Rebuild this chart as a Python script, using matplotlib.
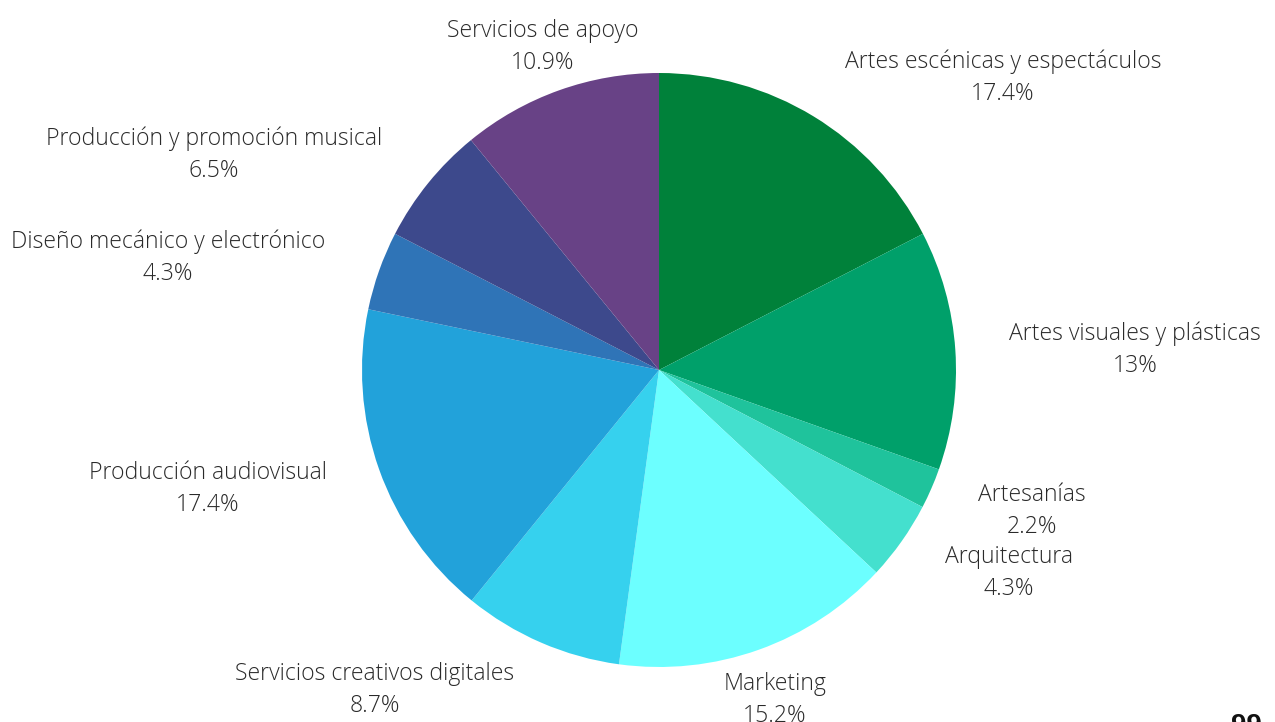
import matplotlib.pyplot as plt

# Sector shares (%), clockwise from 12 o'clock
sectors = [
    "Artes escénicas y espectáculos",
    "Artes visuales y plásticas",
    "Artesanías",
    "Arquitectura",
    "Marketing",
    "Servicios creativos digitales",
    "Producción audiovisual",
    "Diseño mecánico y electrónico",
    "Producción y promoción musical",
    "Servicios de apoyo",
]
shares = [17.4, 13, 2.2, 4.3, 15.2, 8.7, 17.4, 4.3, 6.5, 10.9]
colors = ["#00813A", "#00A06A", "#1FC39C", "#44E0CE", "#6CFFFF",
          "#36D1EE", "#22A2DA", "#2F74B7", "#3D498C", "#684286"]

# label anchor points in pixels (x, y from top)
label_px = [(1003, 78), (1135, 350), (1032, 511), (1009, 573), (775, 700),
            (375, 690), (208, 489), (168, 258), (214, 155), (543, 47)]

W, H = 1275, 722
CX, CY, R = 659, 370, 297

fig = plt.figure(figsize=(W / 100, H / 100), dpi=100)
ax = fig.add_axes([0, 0, 1, 1])
ax.axis('off')

ax.pie(shares, colors=colors, startangle=90, counterclock=False,
       radius=1, center=(0, 0), frame=False,
       wedgeprops=dict(linewidth=0))
ax.set_xlim(-CX / R, (W - CX) / R)
ax.set_ylim(-(H - CY) / R, CY / R)
ax.set_aspect('equal')

font = dict(family=['Open Sans', 'DejaVu Sans'], fontweight='light',
            fontsize=16.6, color='#2a2a2a', ha='center', va='center')
for name, val, (px, py) in zip(sectors, shares, label_px):
    x = (px - CX) / R
    ax.text(x, (CY - (py - 16)) / R, name, **font)
    ax.text(x, (CY - (py + 16)) / R, f"{val:g}%", **font)

# page number, clipped at the bottom edge
fig.text(1246 / W, 1 - 713 / H, "99", ha='center', va='top', fontsize=20,
         fontweight='bold', color='#111111', family='Liberation Sans')

fig.savefig('out.png', dpi=100, facecolor='white')
